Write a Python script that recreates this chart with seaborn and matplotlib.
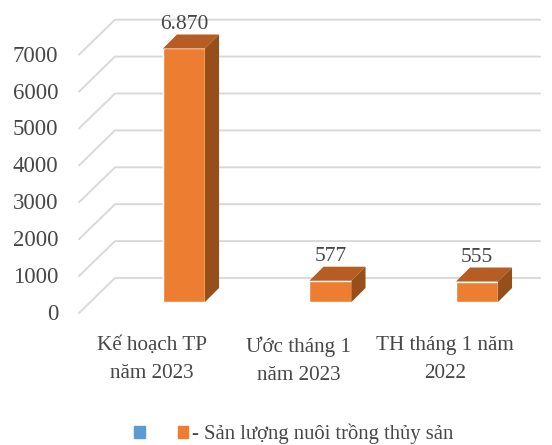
import matplotlib
matplotlib.use('Agg')
import matplotlib.pyplot as plt
import seaborn as sns
from matplotlib.patches import Patch, Polygon
from matplotlib.transforms import ScaledTranslation

categories = ['Kế hoạch TP\nnăm 2023', 'Ước tháng 1\nnăm 2023', 'TH tháng 1 năm\n2022']
values = [6870, 577, 555]
y_ticks = [0, 1000, 2000, 3000, 4000, 5000, 6000, 7000]
series_name = '- Sản lượng nuôi trồng thủy sản'

ORANGE = '#ED7D31'
TOP = '#B55D22'
SIDE = '#964F1B'
BLUE = '#5B9BD5'
TEXT = '#474747'
GRID = '#D9D9D9'

sns.set_theme(style='white')
plt.rcParams['font.family'] = ['Liberation Serif', 'DejaVu Serif']

W, H = 552, 445
fig = plt.figure(figsize=(W / 100, H / 100), dpi=100)
# axes box runs from the front of the floor to the right end of the wall
ax = fig.add_axes([79 / W, (H - 302) / H, (540 - 79) / W, 258.3 / H])

sns.barplot(x=categories, y=values, color=ORANGE, width=0.287, saturation=1, ax=ax, zorder=3)

px_x = 146.5  # pixels per category
px_y = 36.9 / 1000  # pixels per unit
ax.set_xlim((79 - 184) / px_x, (540 - 184) / px_x)
ax.set_ylim(0, 7000)
sns.despine(ax=ax, left=True, bottom=True)

# slanted floor/wall gridlines
x0, x1 = ax.get_xlim()
for v in y_ticks:
    ax.plot([x0, x0 + 36 / px_x, x1],
            [v - 11 / px_y, v + 24 / px_y, v + 24 / px_y],
            color=GRID, lw=1.4, clip_on=False, zorder=1)

# fake 3D depth on each bar
dx, dy = 14 / px_x, 14 / px_y
for bar, v in zip(ax.patches, values):
    left, right = bar.get_x(), bar.get_x() + bar.get_width()
    ax.add_patch(Polygon([(left, v), (left + dx, v + dy), (right + dx, v + dy), (right, v)],
                         facecolor=TOP, edgecolor='none', clip_on=False, zorder=3))
    ax.add_patch(Polygon([(right, 0), (right + dx, dy), (right + dx, v + dy), (right, v)],
                         facecolor=SIDE, edgecolor='none', clip_on=False, zorder=3))
    ax.annotate(f'{v:,}'.replace(',', '.'), (left + bar.get_width() / 2, v),
                xytext=(0, 24 * 0.72), textcoords='offset points', ha='center', va='center',
                fontsize=15.5, color=TEXT, annotation_clip=False, zorder=4)

ax.set_yticks(y_ticks)
ax.tick_params(axis='y', length=0, pad=15, labelsize=16.5, labelcolor=TEXT)
ax.tick_params(axis='x', length=0, pad=24.5, labelsize=15.2, labelcolor=TEXT)
ax.set_xlabel('')
ax.set_ylabel('')

# labels sit on the front of the floor, not on the bar plane
for tick in ax.yaxis.get_major_ticks():
    tick.label1.set_transform(tick.label1.get_transform()
                              + ScaledTranslation(0, -10 / 100, fig.dpi_scale_trans))
for tick in ax.xaxis.get_major_ticks():
    tick.label1.set_transform(tick.label1.get_transform()
                              + ScaledTranslation(-32 / 100, 0, fig.dpi_scale_trans))
    tick.label1.set_linespacing(1.65)

handles = [Patch(color=BLUE), Patch(color=ORANGE)]
fig.legend(handles, ['', series_name], ncols=2, loc='center', bbox_to_anchor=(294 / W, (H - 434) / H),
           frameon=False, fontsize=14.9, labelcolor=TEXT, handlelength=0.5, handleheight=0.5,
           handletextpad=0.2, columnspacing=1.4, borderpad=0)

fig.savefig('out.png', dpi=100)
